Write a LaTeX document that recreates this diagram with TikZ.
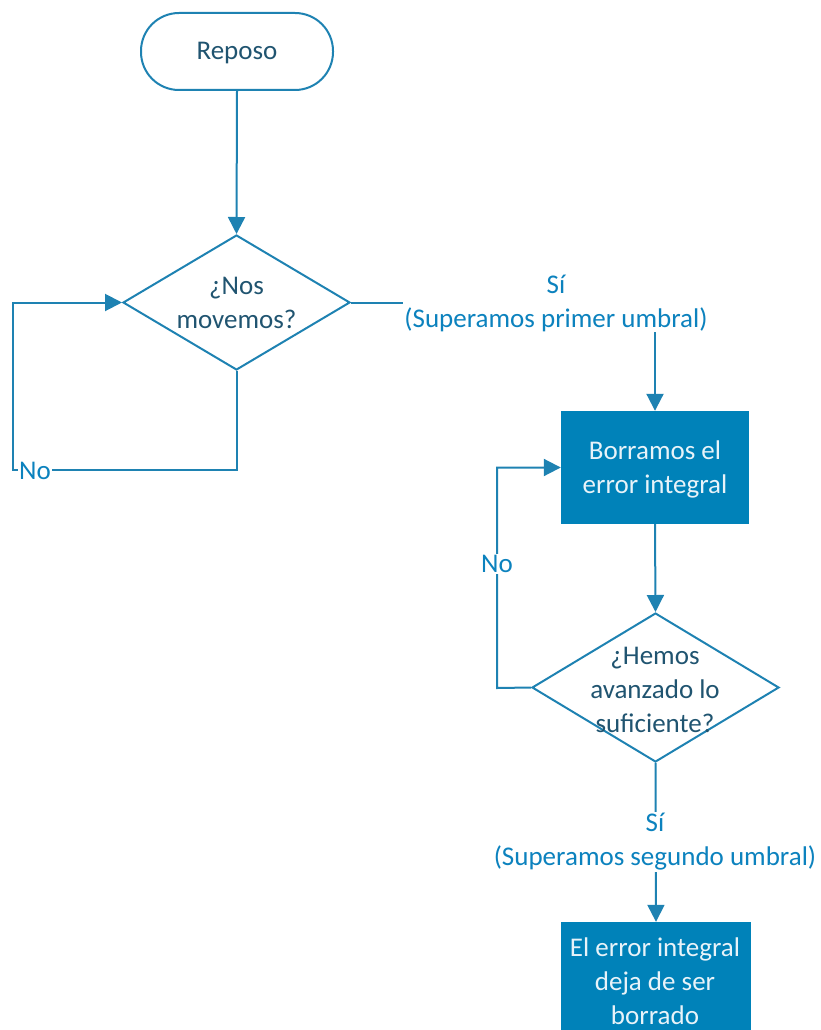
\documentclass[tikz,border=0pt]{standalone}
\usepackage{fontspec}
\setmainfont{Carlito}
\usetikzlibrary{shapes.geometric,arrows.meta}
\definecolor{linecol}{RGB}{30,130,178}
\definecolor{darktext}{RGB}{32,84,112}
\definecolor{labelcol}{RGB}{12,130,190}
\definecolor{boxfill}{RGB}{0,130,185}
\definecolor{boxtext}{RGB}{232,243,249}
\tikzset{
  txt/.style={font=\fontsize{27}{34}\selectfont, align=center, inner sep=0pt},
  stadium/.style={draw=linecol, line width=2pt, rounded corners=38pt, minimum width=192pt, minimum height=77pt},
  decision/.style={draw=linecol, line width=2pt, diamond, inner sep=0pt},
  process/.style={fill=boxfill},
  qtext/.style={txt, text=darktext},
  lbl/.style={txt, text=labelcol, fill=white, inner sep=1pt},
  conn/.style={draw=linecol, line width=2pt},
  arr/.style={conn, -{Triangle[length=17pt,width=17pt]}}
}
\begin{document}
\begin{tikzpicture}[x=1pt,y=-1pt]
\useasboundingbox (0,0) rectangle (820,1030);
\clip (0,0) rectangle (820,1030);
% nodes
\node[stadium] (rep) at (237,51.5) {};
\node[qtext] (t0) at (237,53) {Reposo};
\node[decision, minimum width=227pt, minimum height=135pt] (d1) at (236.5,302.5) {};
\node[qtext] (q1) at (236.5,303) {¿Nos\\movemos?};
\node[process, minimum width=188pt, minimum height=113pt] (b1) at (655,467.5) {};
\node[txt, text=boxtext] (t1) at (655,469) {Borramos el\\error integral};
\node[decision, minimum width=247pt, minimum height=149pt] (d2) at (655.5,687.5) {};
\node[qtext] (q2) at (655,690) {¿Hemos\\avanzado lo\\suficiente?};
\node[process, minimum width=190pt, minimum height=140pt] (b2) at (656,992) {};
\node[txt, text=boxtext] (t2) at (655,981) {El error integral\\deja de ser\\borrado};
% coordinates
\coordinate (c1) at (13,470);
\coordinate (c2) at (497,688);
% connectors
\draw[arr] (rep.south) -- (d1.north);
\draw[arr] (d1.south) |- (c1) |- (d1.west);
\draw[arr] (d1.east) -| (b1.north);
\draw[arr] (b1.south) -- (d2.north);
\draw[arr] (d2.west) -- (c2) |- (b1.west);
\draw[arr] (d2.south) -- (b2.north);
% labels
\node[lbl] (no1) at (35,471) {No};
\node[lbl] (si1) at (556,303) {Sí\\(Superamos primer umbral)};
\node[lbl] (no2) at (497,564) {No};
\node[lbl] (si2) at (655,842) {Sí\\(Superamos segundo umbral)};
\end{tikzpicture}
\end{document}
